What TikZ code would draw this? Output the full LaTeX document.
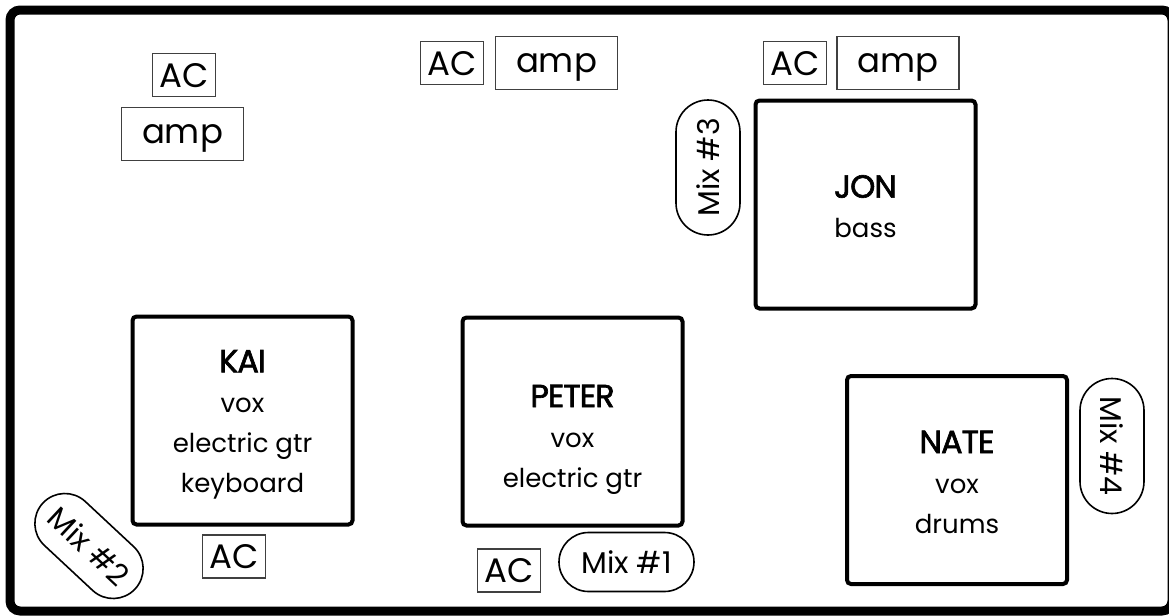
\documentclass[tikz,border=0pt]{standalone}
\usepackage{fontspec}
\setmainfont{Poppins}
\newfontfamily\namefont[FakeBold=2, LetterSpace=-3]{Poppins}
\usetikzlibrary{shapes.misc}

\tikzset{
  player/.style={draw, line width=2pt, rounded corners=2pt, inner sep=0pt,
    minimum width=110pt, minimum height=104pt},
  roster/.style={align=center, inner sep=0pt, font=\fontsize{13}{20}\selectfont},
  gear/.style={draw=black!75, line width=0.6pt, inner sep=0pt, text depth=0pt,
    font=\fontsize{17}{20}\selectfont},
  acbox/.style={gear, minimum width=31.5pt, minimum height=21.5pt},
  ampbox/.style={gear, minimum width=61pt, minimum height=26.5pt},
  mixer/.style={draw, rounded rectangle, line width=0.8pt, inner sep=0pt, text depth=0pt,
    minimum width=67.5pt, minimum height=32pt, font=\fontsize{15}{20}\selectfont},
}
\newcommand{\who}[1]{{\namefont\fontsize{16}{20}\selectfont #1}}

\begin{document}
\begin{tikzpicture}[x=0.5pt, y=-0.5pt]
  \useasboundingbox (0,0) rectangle (1169,616);

  % room outline
  \draw[line width=4.5pt, rounded corners=5pt] (10,10) rectangle (1172,611);

  % players
  \node[player] (kai) at (242.5,420.5) {};
  \node[roster] (kailbl) at ([yshift=-2pt]kai.center) {\who{KAI}\\vox\\electric gtr\\keyboard};
  \node[player] (peter) at (572.5,421.5) {};
  \node[roster] (peterlbl) at ([yshift=-9pt]peter.center) {\who{PETER}\\vox\\electric gtr};
  \node[player] (jon) at (865.5,204.5) {};
  \node[roster] (jonlbl) at ([yshift=-1pt]jon.center) {\who{JON}\\bass};
  \node[player] (nate) at (957,480) {};
  \node[roster] (natelbl) at ([yshift=-1pt]nate.center) {\who{NATE}\\vox\\drums};

  % power and amps
  \node[acbox] (ac1) at (184,75) {AC};
  \node[ampbox] (amp1) at (182.5,134) {amp};
  \node[acbox] (ac2) at (452,63) {AC};
  \node[ampbox] (amp2) at (556.5,63) {amp};
  \node[acbox] (ac3) at (795,63) {AC};
  \node[ampbox] (amp3) at (898,63) {amp};
  \node[acbox] (ac4) at (234,556.5) {AC};
  \node[acbox] (ac5) at (509,570.5) {AC};

  % monitor mixes
  \node[mixer, minimum height=29.5pt] (mix1) at (626.5,562) {Mix \#1};
  \node[mixer, minimum width=63pt, minimum height=30pt, rotate=-43] (mix2) at (89,546) {Mix \#2};
  \node[mixer, rotate=90] (mix3) at (708,167.5) {Mix \#3};
  \node[mixer, rotate=-90] (mix4) at (1112,446) {Mix \#4};
\end{tikzpicture}
\end{document}
